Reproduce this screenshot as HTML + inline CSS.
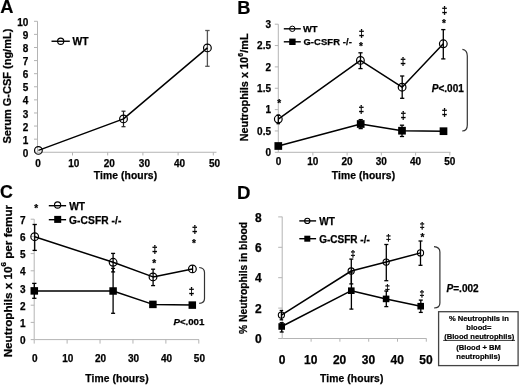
<!DOCTYPE html><html><head><meta charset="utf-8"><style>html,body{margin:0;padding:0;background:#fff;}svg{display:block;filter:grayscale(1);}text{font-family:"Liberation Sans",sans-serif;fill:#000;stroke:#000;stroke-width:0.25px;}</style></head><body>
<svg width="520" height="387" viewBox="0 0 520 387">
<g>
<rect width="520" height="387" fill="#fff"/>
<text x="0.3" y="13.3" font-size="18.3" text-anchor="start" font-weight="bold" style="stroke-width:0.15px">A</text>
<line x1="37.5" y1="21.3" x2="37.5" y2="152.25" stroke="#b4b4b4" stroke-width="1.0"/>
<line x1="34.0" y1="152.25" x2="37.5" y2="152.25" stroke="#b4b4b4" stroke-width="1.0"/>
<line x1="34.0" y1="139.16" x2="37.5" y2="139.16" stroke="#b4b4b4" stroke-width="1.0"/>
<line x1="34.0" y1="126.06" x2="37.5" y2="126.06" stroke="#b4b4b4" stroke-width="1.0"/>
<line x1="34.0" y1="112.97" x2="37.5" y2="112.97" stroke="#b4b4b4" stroke-width="1.0"/>
<line x1="34.0" y1="99.87" x2="37.5" y2="99.87" stroke="#b4b4b4" stroke-width="1.0"/>
<line x1="34.0" y1="86.77" x2="37.5" y2="86.77" stroke="#b4b4b4" stroke-width="1.0"/>
<line x1="34.0" y1="73.68" x2="37.5" y2="73.68" stroke="#b4b4b4" stroke-width="1.0"/>
<line x1="34.0" y1="60.58" x2="37.5" y2="60.58" stroke="#b4b4b4" stroke-width="1.0"/>
<line x1="34.0" y1="47.49" x2="37.5" y2="47.49" stroke="#b4b4b4" stroke-width="1.0"/>
<line x1="34.0" y1="34.39" x2="37.5" y2="34.39" stroke="#b4b4b4" stroke-width="1.0"/>
<line x1="34.0" y1="21.3" x2="37.5" y2="21.3" stroke="#b4b4b4" stroke-width="1.0"/>
<line x1="37.5" y1="152.25" x2="216.5" y2="152.25" stroke="#b4b4b4" stroke-width="1.0"/>
<line x1="72.5" y1="152.25" x2="72.5" y2="155.45" stroke="#b4b4b4" stroke-width="1.0"/>
<line x1="107.7" y1="152.25" x2="107.7" y2="155.45" stroke="#b4b4b4" stroke-width="1.0"/>
<line x1="142.9" y1="152.25" x2="142.9" y2="155.45" stroke="#b4b4b4" stroke-width="1.0"/>
<line x1="178.1" y1="152.25" x2="178.1" y2="155.45" stroke="#b4b4b4" stroke-width="1.0"/>
<line x1="213.3" y1="152.25" x2="213.3" y2="155.45" stroke="#b4b4b4" stroke-width="1.0"/>
<text x="28.4" y="156.85" font-size="10" text-anchor="end" font-weight="bold" >0</text>
<text x="28.4" y="143.75" font-size="10" text-anchor="end" font-weight="bold" >1</text>
<text x="28.4" y="130.66" font-size="10" text-anchor="end" font-weight="bold" >2</text>
<text x="28.4" y="117.56" font-size="10" text-anchor="end" font-weight="bold" >3</text>
<text x="28.4" y="104.47" font-size="10" text-anchor="end" font-weight="bold" >4</text>
<text x="28.4" y="91.37" font-size="10" text-anchor="end" font-weight="bold" >5</text>
<text x="28.4" y="78.28" font-size="10" text-anchor="end" font-weight="bold" >6</text>
<text x="28.4" y="65.18" font-size="10" text-anchor="end" font-weight="bold" >7</text>
<text x="28.4" y="52.09" font-size="10" text-anchor="end" font-weight="bold" >8</text>
<text x="28.4" y="38.99" font-size="10" text-anchor="end" font-weight="bold" >9</text>
<text x="28.4" y="25.9" font-size="10" text-anchor="end" font-weight="bold" >10</text>
<text x="38.1" y="166.6" font-size="10" text-anchor="middle" font-weight="bold" >0</text>
<text x="73.8" y="166.6" font-size="10" text-anchor="middle" font-weight="bold" >10</text>
<text x="109.2" y="166.6" font-size="10" text-anchor="middle" font-weight="bold" >20</text>
<text x="144.4" y="166.6" font-size="10" text-anchor="middle" font-weight="bold" >30</text>
<text x="179.6" y="166.6" font-size="10" text-anchor="middle" font-weight="bold" >40</text>
<text x="214.6" y="166.6" font-size="10" text-anchor="middle" font-weight="bold" >50</text>
<text x="125.5" y="178.8" font-size="10.3" text-anchor="middle" font-weight="bold" letter-spacing="0.1">Time (hours)</text>
<text transform="translate(10.9,86.1) rotate(-90) scale(1.02,1)" x="0" y="0" font-size="10.8" text-anchor="middle" font-weight="bold" >Serum G-CSF (ng/mL)</text>
<line x1="51.5" y1="41.25" x2="69.8" y2="41.25" stroke="#000" stroke-width="1.4"/>
<circle cx="60.7" cy="41.25" r="3.1" fill="none" stroke="#000" stroke-width="1.1"/>
<text x="72.6" y="44.8" font-size="10.3" text-anchor="start" font-weight="bold" >WT</text>
<line x1="123.5" y1="111.2" x2="123.5" y2="126.7" stroke="#222" stroke-width="1.2"/>
<line x1="121.5" y1="111.2" x2="125.5" y2="111.2" stroke="#222" stroke-width="1.2"/>
<line x1="121.5" y1="126.7" x2="125.5" y2="126.7" stroke="#222" stroke-width="1.2"/>
<line x1="207.4" y1="30.5" x2="207.4" y2="66.3" stroke="#555" stroke-width="1.3"/>
<line x1="205.2" y1="30.5" x2="209.6" y2="30.5" stroke="#555" stroke-width="1.3"/>
<line x1="205.2" y1="66.3" x2="209.6" y2="66.3" stroke="#555" stroke-width="1.3"/>
<polyline points="38.4,150.4 123.5,118.9 207.4,47.9" fill="none" stroke="#000" stroke-width="1.5" stroke-linejoin="round"/>
<circle cx="38.4" cy="150.4" r="3.85" fill="none" stroke="#000" stroke-width="1.2"/>
<circle cx="123.5" cy="118.9" r="3.85" fill="none" stroke="#000" stroke-width="1.2"/>
<circle cx="207.4" cy="47.9" r="3.85" fill="none" stroke="#000" stroke-width="1.2"/>
<text x="237.3" y="13.6" font-size="18.3" text-anchor="start" font-weight="bold" style="stroke-width:0.15px">B</text>
<line x1="278.3" y1="24.2" x2="278.3" y2="152.3" stroke="#b4b4b4" stroke-width="1.0"/>
<line x1="274.8" y1="152.3" x2="278.3" y2="152.3" stroke="#b4b4b4" stroke-width="1.0"/>
<line x1="274.8" y1="130.95" x2="278.3" y2="130.95" stroke="#b4b4b4" stroke-width="1.0"/>
<line x1="274.8" y1="109.6" x2="278.3" y2="109.6" stroke="#b4b4b4" stroke-width="1.0"/>
<line x1="274.8" y1="88.25" x2="278.3" y2="88.25" stroke="#b4b4b4" stroke-width="1.0"/>
<line x1="274.8" y1="66.9" x2="278.3" y2="66.9" stroke="#b4b4b4" stroke-width="1.0"/>
<line x1="274.8" y1="45.55" x2="278.3" y2="45.55" stroke="#b4b4b4" stroke-width="1.0"/>
<line x1="274.8" y1="24.2" x2="278.3" y2="24.2" stroke="#b4b4b4" stroke-width="1.0"/>
<line x1="278.3" y1="152.3" x2="450.5" y2="152.3" stroke="#b4b4b4" stroke-width="1.0"/>
<line x1="312.85" y1="152.3" x2="312.85" y2="155.5" stroke="#b4b4b4" stroke-width="1.0"/>
<line x1="347.1" y1="152.3" x2="347.1" y2="155.5" stroke="#b4b4b4" stroke-width="1.0"/>
<line x1="381.35" y1="152.3" x2="381.35" y2="155.5" stroke="#b4b4b4" stroke-width="1.0"/>
<line x1="415.6" y1="152.3" x2="415.6" y2="155.5" stroke="#b4b4b4" stroke-width="1.0"/>
<line x1="449.85" y1="152.3" x2="449.85" y2="155.5" stroke="#b4b4b4" stroke-width="1.0"/>
<text x="271.0" y="156.15" font-size="10" text-anchor="end" font-weight="bold" >0</text>
<text x="271.0" y="134.8" font-size="10" text-anchor="end" font-weight="bold" >0.5</text>
<text x="271.0" y="113.45" font-size="10" text-anchor="end" font-weight="bold" >1</text>
<text x="271.0" y="92.1" font-size="10" text-anchor="end" font-weight="bold" >1.5</text>
<text x="271.0" y="70.75" font-size="10" text-anchor="end" font-weight="bold" >2</text>
<text x="271.0" y="49.4" font-size="10" text-anchor="end" font-weight="bold" >2.5</text>
<text x="271.0" y="28.05" font-size="10" text-anchor="end" font-weight="bold" >3</text>
<text x="278.6" y="165.3" font-size="10" text-anchor="middle" font-weight="bold" >0</text>
<text x="312.85" y="165.3" font-size="10" text-anchor="middle" font-weight="bold" >10</text>
<text x="347.1" y="165.3" font-size="10" text-anchor="middle" font-weight="bold" >20</text>
<text x="381.35" y="165.3" font-size="10" text-anchor="middle" font-weight="bold" >30</text>
<text x="415.6" y="165.3" font-size="10" text-anchor="middle" font-weight="bold" >40</text>
<text x="449.85" y="165.3" font-size="10" text-anchor="middle" font-weight="bold" >50</text>
<text x="363.5" y="178.7" font-size="10.3" text-anchor="middle" font-weight="bold" letter-spacing="0.1">Time (hours)</text>
<text transform="translate(247.8,87.4) rotate(-90) scale(1.065,1)" x="0" y="0" font-size="10.2" text-anchor="middle" font-weight="bold" >Neutrophils x 10<tspan font-size="6.5" dx="0.2" dy="-4.6">6</tspan><tspan dx="0.2" dy="4.6">/mL</tspan></text>
<line x1="283.8" y1="28.8" x2="300.8" y2="28.8" stroke="#000" stroke-width="1.4"/>
<circle cx="292.3" cy="28.8" r="2.7" fill="none" stroke="#000" stroke-width="1.0"/>
<text x="303.0" y="32.1" font-size="9.4" text-anchor="start" font-weight="bold" >WT</text>
<line x1="283.8" y1="41.8" x2="300.8" y2="41.8" stroke="#000" stroke-width="1.4"/>
<rect x="289.2" y="38.6" width="6.4" height="6.4" fill="#000"/>
<text x="303.4" y="45.1" font-size="9.4" text-anchor="start" font-weight="bold" letter-spacing="0.12">G-CSFR -/-</text>
<line x1="278.3" y1="115" x2="278.3" y2="123.7" stroke="#000" stroke-width="1.3"/>
<line x1="276.55" y1="115" x2="280.05" y2="115" stroke="#000" stroke-width="1.3"/>
<line x1="276.55" y1="123.7" x2="280.05" y2="123.7" stroke="#000" stroke-width="1.3"/>
<line x1="360.5" y1="52.8" x2="360.5" y2="68.6" stroke="#000" stroke-width="1.3"/>
<line x1="358.4" y1="52.8" x2="362.6" y2="52.8" stroke="#000" stroke-width="1.3"/>
<line x1="358.4" y1="68.6" x2="362.6" y2="68.6" stroke="#000" stroke-width="1.3"/>
<line x1="402.2" y1="76" x2="402.2" y2="98.3" stroke="#000" stroke-width="1.3"/>
<line x1="400.1" y1="76" x2="404.3" y2="76" stroke="#000" stroke-width="1.3"/>
<line x1="400.1" y1="98.3" x2="404.3" y2="98.3" stroke="#000" stroke-width="1.3"/>
<line x1="443.3" y1="29.6" x2="443.3" y2="58.9" stroke="#000" stroke-width="1.3"/>
<line x1="441.2" y1="29.6" x2="445.4" y2="29.6" stroke="#000" stroke-width="1.3"/>
<line x1="441.2" y1="58.9" x2="445.4" y2="58.9" stroke="#000" stroke-width="1.3"/>
<line x1="402" y1="125.2" x2="402" y2="136.5" stroke="#000" stroke-width="1.3"/>
<line x1="399.9" y1="125.2" x2="404.1" y2="125.2" stroke="#000" stroke-width="1.3"/>
<line x1="399.9" y1="136.5" x2="404.1" y2="136.5" stroke="#000" stroke-width="1.3"/>
<line x1="360.7" y1="119.6" x2="360.7" y2="128.6" stroke="#000" stroke-width="1.3"/>
<line x1="358.6" y1="119.6" x2="362.8" y2="119.6" stroke="#000" stroke-width="1.3"/>
<line x1="358.6" y1="128.6" x2="362.8" y2="128.6" stroke="#000" stroke-width="1.3"/>
<polyline points="278.3,119.1 360.4,60.4 402.1,87.2 443.3,43.8" fill="none" stroke="#000" stroke-width="1.5" stroke-linejoin="round"/>
<circle cx="278.3" cy="119.1" r="3.85" fill="none" stroke="#000" stroke-width="1.2"/>
<circle cx="360.4" cy="60.4" r="3.85" fill="none" stroke="#000" stroke-width="1.2"/>
<circle cx="402.1" cy="87.2" r="3.85" fill="none" stroke="#000" stroke-width="1.2"/>
<circle cx="443.3" cy="43.8" r="3.85" fill="none" stroke="#000" stroke-width="1.2"/>
<polyline points="278.3,146.0 360.7,124 402,130.7 443.5,131.2" fill="none" stroke="#000" stroke-width="1.5" stroke-linejoin="round"/>
<rect x="274.45" y="142.15" width="7.7" height="7.7" fill="#000"/>
<rect x="356.85" y="120.15" width="7.7" height="7.7" fill="#000"/>
<rect x="398.15" y="126.85" width="7.7" height="7.7" fill="#000"/>
<rect x="439.65" y="127.35" width="7.7" height="7.7" fill="#000"/>
<text x="279.3" y="107.35" font-size="10" text-anchor="middle" font-weight="bold" >*</text>
<text x="360.95" y="49.65" font-size="10" text-anchor="middle" font-weight="bold" >*</text>
<text x="361.45" y="36.55" font-size="10" text-anchor="middle" font-weight="bold" >‡</text>
<text x="403.15" y="64.75" font-size="10" text-anchor="middle" font-weight="bold" >‡</text>
<text x="403.25" y="118.55" font-size="10" text-anchor="middle" font-weight="bold" >‡</text>
<text x="443.95" y="27.0" font-size="10" text-anchor="middle" font-weight="bold" >*</text>
<text x="444.65" y="13.75" font-size="10" text-anchor="middle" font-weight="bold" >‡</text>
<text x="361.25" y="113.0" font-size="10" text-anchor="middle" font-weight="bold" >‡</text>
<text x="444.45" y="115.7" font-size="10" text-anchor="middle" font-weight="bold" >‡</text>
<path d="M462.4,49.3 Q467.3,50 467.3,56 L467.3,125 Q467.3,131 462.2,131" fill="none" stroke="#333" stroke-width="1.2"/>
<text x="463.8" y="92.0" font-size="10" text-anchor="end" font-weight="bold" ><tspan font-style="italic">P</tspan>&lt;.001</text>
<text x="0.1" y="197.9" font-size="17.8" text-anchor="start" font-weight="bold" style="stroke-width:0.15px">C</text>
<line x1="34.2" y1="219.1" x2="34.2" y2="339.6" stroke="#b4b4b4" stroke-width="1.0"/>
<line x1="30.7" y1="339.6" x2="34.2" y2="339.6" stroke="#b4b4b4" stroke-width="1.0"/>
<line x1="30.7" y1="322.4" x2="34.2" y2="322.4" stroke="#b4b4b4" stroke-width="1.0"/>
<line x1="30.7" y1="305.2" x2="34.2" y2="305.2" stroke="#b4b4b4" stroke-width="1.0"/>
<line x1="30.7" y1="288.0" x2="34.2" y2="288.0" stroke="#b4b4b4" stroke-width="1.0"/>
<line x1="30.7" y1="270.8" x2="34.2" y2="270.8" stroke="#b4b4b4" stroke-width="1.0"/>
<line x1="30.7" y1="253.6" x2="34.2" y2="253.6" stroke="#b4b4b4" stroke-width="1.0"/>
<line x1="30.7" y1="236.4" x2="34.2" y2="236.4" stroke="#b4b4b4" stroke-width="1.0"/>
<line x1="30.7" y1="219.2" x2="34.2" y2="219.2" stroke="#b4b4b4" stroke-width="1.0"/>
<line x1="34.2" y1="339.6" x2="199.0" y2="339.6" stroke="#b4b4b4" stroke-width="1.0"/>
<line x1="34.2" y1="339.6" x2="34.2" y2="343.6" stroke="#b4b4b4" stroke-width="1.0"/>
<line x1="67.12" y1="339.6" x2="67.12" y2="343.6" stroke="#b4b4b4" stroke-width="1.0"/>
<line x1="100.04" y1="339.6" x2="100.04" y2="343.6" stroke="#b4b4b4" stroke-width="1.0"/>
<line x1="132.96" y1="339.6" x2="132.96" y2="343.6" stroke="#b4b4b4" stroke-width="1.0"/>
<line x1="165.88" y1="339.6" x2="165.88" y2="343.6" stroke="#b4b4b4" stroke-width="1.0"/>
<line x1="198.8" y1="339.6" x2="198.8" y2="343.6" stroke="#b4b4b4" stroke-width="1.0"/>
<text x="25.5" y="344.2" font-size="10" text-anchor="end" font-weight="bold" >0</text>
<text x="25.5" y="327.0" font-size="10" text-anchor="end" font-weight="bold" >1</text>
<text x="25.5" y="309.8" font-size="10" text-anchor="end" font-weight="bold" >2</text>
<text x="25.5" y="292.6" font-size="10" text-anchor="end" font-weight="bold" >3</text>
<text x="25.5" y="275.4" font-size="10" text-anchor="end" font-weight="bold" >4</text>
<text x="25.5" y="258.2" font-size="10" text-anchor="end" font-weight="bold" >5</text>
<text x="25.5" y="241.0" font-size="10" text-anchor="end" font-weight="bold" >6</text>
<text x="25.5" y="223.8" font-size="10" text-anchor="end" font-weight="bold" >7</text>
<text x="34.8" y="362.4" font-size="10" text-anchor="middle" font-weight="bold" >0</text>
<text x="67.72" y="362.4" font-size="10" text-anchor="middle" font-weight="bold" >10</text>
<text x="100.64" y="362.4" font-size="10" text-anchor="middle" font-weight="bold" >20</text>
<text x="133.56" y="362.4" font-size="10" text-anchor="middle" font-weight="bold" >30</text>
<text x="166.48" y="362.4" font-size="10" text-anchor="middle" font-weight="bold" >40</text>
<text x="199.4" y="362.4" font-size="10" text-anchor="middle" font-weight="bold" >50</text>
<text x="117.0" y="381.9" font-size="10.3" text-anchor="middle" font-weight="bold" letter-spacing="0.1">Time (hours)</text>
<text transform="translate(11.5,281.1) rotate(-90) scale(1.063,1)" x="0" y="0" font-size="11" text-anchor="middle" font-weight="bold" >Neutrophils x 10<tspan font-size="7.5" dx="0" dy="-5.4">6</tspan><tspan dy="5.4"> per femur</tspan></text>
<line x1="48.8" y1="205.7" x2="66.1" y2="205.7" stroke="#000" stroke-width="1.4"/>
<circle cx="57.6" cy="205.0" r="3.1" fill="none" stroke="#000" stroke-width="1.1"/>
<text x="69.2" y="209.8" font-size="10.2" text-anchor="start" font-weight="bold" >WT</text>
<line x1="48.8" y1="219.7" x2="66.1" y2="219.7" stroke="#000" stroke-width="1.4"/>
<rect x="54.2" y="215.9" width="7.0" height="7.0" fill="#000"/>
<text x="69.1" y="223.8" font-size="10.2" text-anchor="start" font-weight="bold" letter-spacing="0.08">G-CSFR -/-</text>
<line x1="34.7" y1="224.5" x2="34.7" y2="250.4" stroke="#000" stroke-width="1.3"/>
<line x1="32.55" y1="224.5" x2="36.85" y2="224.5" stroke="#000" stroke-width="1.3"/>
<line x1="32.55" y1="250.4" x2="36.85" y2="250.4" stroke="#000" stroke-width="1.3"/>
<line x1="113.1" y1="253.4" x2="113.1" y2="271.9" stroke="#000" stroke-width="1.3"/>
<line x1="111.1" y1="253.4" x2="115.1" y2="253.4" stroke="#000" stroke-width="1.3"/>
<line x1="111.1" y1="271.9" x2="115.1" y2="271.9" stroke="#000" stroke-width="1.3"/>
<line x1="153.1" y1="269.2" x2="153.1" y2="285.6" stroke="#000" stroke-width="1.3"/>
<line x1="151.1" y1="269.2" x2="155.1" y2="269.2" stroke="#000" stroke-width="1.3"/>
<line x1="151.1" y1="285.6" x2="155.1" y2="285.6" stroke="#000" stroke-width="1.3"/>
<line x1="192.6" y1="265.2" x2="192.6" y2="273.0" stroke="#000" stroke-width="1.2"/>
<line x1="34.3" y1="283.4" x2="34.3" y2="298.3" stroke="#000" stroke-width="1.3"/>
<line x1="32.15" y1="283.4" x2="36.45" y2="283.4" stroke="#000" stroke-width="1.3"/>
<line x1="32.15" y1="298.3" x2="36.45" y2="298.3" stroke="#000" stroke-width="1.3"/>
<line x1="113.1" y1="268.4" x2="113.1" y2="313.3" stroke="#000" stroke-width="1.3"/>
<line x1="111.1" y1="268.4" x2="115.1" y2="268.4" stroke="#000" stroke-width="1.3"/>
<line x1="111.1" y1="313.3" x2="115.1" y2="313.3" stroke="#000" stroke-width="1.3"/>
<polyline points="34.7,236.7 113.1,262.3 153.0,276.9 192.4,268.9" fill="none" stroke="#000" stroke-width="1.5" stroke-linejoin="round"/>
<circle cx="34.7" cy="236.7" r="3.85" fill="none" stroke="#000" stroke-width="1.2"/>
<circle cx="113.1" cy="262.3" r="3.85" fill="none" stroke="#000" stroke-width="1.2"/>
<circle cx="153.0" cy="276.9" r="3.85" fill="none" stroke="#000" stroke-width="1.2"/>
<circle cx="192.4" cy="268.9" r="3.85" fill="none" stroke="#000" stroke-width="1.2"/>
<polyline points="34.3,290.9 113.1,291.0 152.9,304.4 192.3,305.1" fill="none" stroke="#000" stroke-width="1.5" stroke-linejoin="round"/>
<rect x="30.55" y="287.15" width="7.5" height="7.5" fill="#000"/>
<rect x="109.35" y="287.25" width="7.5" height="7.5" fill="#000"/>
<rect x="149.15" y="300.65" width="7.5" height="7.5" fill="#000"/>
<rect x="188.55" y="301.35" width="7.5" height="7.5" fill="#000"/>
<text x="36.1" y="211.55" font-size="10" text-anchor="middle" font-weight="bold" >*</text>
<text x="154.2" y="266.85" font-size="10" text-anchor="middle" font-weight="bold" >*</text>
<text x="154.9" y="253.4" font-size="10" text-anchor="middle" font-weight="bold" >‡</text>
<text x="193.9" y="246.5" font-size="10" text-anchor="middle" font-weight="bold" >*</text>
<text x="194.8" y="233.25" font-size="10" text-anchor="middle" font-weight="bold" >‡</text>
<text x="191.65" y="294.85" font-size="10" text-anchor="middle" font-weight="bold" >‡</text>
<path d="M199.2,267.5 Q204.5,268 204.5,272.5 L204.5,298.5 Q204.5,303 199.2,303.4" fill="none" stroke="#333" stroke-width="1.2"/>
<text x="204.4" y="324.6" font-size="9.7" text-anchor="end" font-weight="bold" ><tspan font-style="italic">P</tspan>&lt;.001</text>
<text x="236.9" y="198.7" font-size="18.6" text-anchor="start" font-weight="bold" style="stroke-width:0.15px">D</text>
<line x1="282.2" y1="216.7" x2="282.2" y2="338.5" stroke="#b4b4b4" stroke-width="1.0"/>
<line x1="278.2" y1="338.5" x2="282.2" y2="338.5" stroke="#b4b4b4" stroke-width="1.0"/>
<line x1="278.2" y1="308.1" x2="282.2" y2="308.1" stroke="#b4b4b4" stroke-width="1.0"/>
<line x1="278.2" y1="277.7" x2="282.2" y2="277.7" stroke="#b4b4b4" stroke-width="1.0"/>
<line x1="278.2" y1="247.3" x2="282.2" y2="247.3" stroke="#b4b4b4" stroke-width="1.0"/>
<line x1="278.2" y1="216.9" x2="282.2" y2="216.9" stroke="#b4b4b4" stroke-width="1.0"/>
<line x1="282.2" y1="338.5" x2="426.5" y2="338.5" stroke="#b4b4b4" stroke-width="1.0"/>
<line x1="311.1" y1="338.5" x2="311.1" y2="341.7" stroke="#b4b4b4" stroke-width="1.0"/>
<line x1="339.9" y1="338.5" x2="339.9" y2="341.7" stroke="#b4b4b4" stroke-width="1.0"/>
<line x1="368.7" y1="338.5" x2="368.7" y2="341.7" stroke="#b4b4b4" stroke-width="1.0"/>
<line x1="397.5" y1="338.5" x2="397.5" y2="341.7" stroke="#b4b4b4" stroke-width="1.0"/>
<line x1="426.3" y1="338.5" x2="426.3" y2="341.7" stroke="#b4b4b4" stroke-width="1.0"/>
<text x="261.7" y="343.1" font-size="12" text-anchor="end" font-weight="bold" >0</text>
<text x="261.7" y="312.7" font-size="12" text-anchor="end" font-weight="bold" >2</text>
<text x="261.7" y="282.3" font-size="12" text-anchor="end" font-weight="bold" >4</text>
<text x="261.7" y="251.9" font-size="12" text-anchor="end" font-weight="bold" >6</text>
<text x="261.7" y="221.5" font-size="12" text-anchor="end" font-weight="bold" >8</text>
<text x="282.0" y="364.0" font-size="12" text-anchor="middle" font-weight="bold" >0</text>
<text x="310.8" y="364.0" font-size="12" text-anchor="middle" font-weight="bold" >10</text>
<text x="339.6" y="364.0" font-size="12" text-anchor="middle" font-weight="bold" >20</text>
<text x="368.40000000000003" y="364.0" font-size="12" text-anchor="middle" font-weight="bold" >30</text>
<text x="397.2" y="364.0" font-size="12" text-anchor="middle" font-weight="bold" >40</text>
<text x="426.0" y="364.0" font-size="12" text-anchor="middle" font-weight="bold" >50</text>
<text x="351.8" y="381.9" font-size="10.3" text-anchor="middle" font-weight="bold" letter-spacing="0.1">Time (hours)</text>
<text transform="translate(247.2,277.9) rotate(-90) scale(1.02,1)" x="0" y="0" font-size="10.1" text-anchor="middle" font-weight="bold" >% Neutrophils in blood</text>
<line x1="299.3" y1="220.9" x2="316.1" y2="220.9" stroke="#000" stroke-width="1.4"/>
<circle cx="307.3" cy="220.9" r="2.6" fill="none" stroke="#000" stroke-width="1.1"/>
<text x="319.2" y="225.0" font-size="10" text-anchor="start" font-weight="bold" >WT</text>
<line x1="299.3" y1="238.7" x2="316.1" y2="238.7" stroke="#000" stroke-width="1.4"/>
<rect x="304.3" y="235.7" width="6" height="6" fill="#000"/>
<text x="319.2" y="242.8" font-size="10" text-anchor="start" font-weight="bold" >G-CSFR -/-</text>
<line x1="281.4" y1="310.5" x2="281.4" y2="319.8" stroke="#000" stroke-width="1.3"/>
<line x1="279.65" y1="310.5" x2="283.15" y2="310.5" stroke="#000" stroke-width="1.3"/>
<line x1="279.65" y1="319.8" x2="283.15" y2="319.8" stroke="#000" stroke-width="1.3"/>
<line x1="351.3" y1="259.1" x2="351.3" y2="283.9" stroke="#000" stroke-width="1.3"/>
<line x1="349.3" y1="259.1" x2="353.3" y2="259.1" stroke="#000" stroke-width="1.3"/>
<line x1="349.3" y1="283.9" x2="353.3" y2="283.9" stroke="#000" stroke-width="1.3"/>
<line x1="386.3" y1="244.5" x2="386.3" y2="280.7" stroke="#000" stroke-width="1.3"/>
<line x1="384.3" y1="244.5" x2="388.3" y2="244.5" stroke="#000" stroke-width="1.3"/>
<line x1="384.3" y1="280.7" x2="388.3" y2="280.7" stroke="#000" stroke-width="1.3"/>
<line x1="420.5" y1="241" x2="420.5" y2="265.3" stroke="#000" stroke-width="1.3"/>
<line x1="418.5" y1="241" x2="422.5" y2="241" stroke="#000" stroke-width="1.3"/>
<line x1="418.5" y1="265.3" x2="422.5" y2="265.3" stroke="#000" stroke-width="1.3"/>
<line x1="281.7" y1="322.7" x2="281.7" y2="332" stroke="#000" stroke-width="1.3"/>
<line x1="279.7" y1="322.7" x2="283.7" y2="322.7" stroke="#000" stroke-width="1.3"/>
<line x1="279.7" y1="332" x2="283.7" y2="332" stroke="#000" stroke-width="1.3"/>
<line x1="351.4" y1="272" x2="351.4" y2="309.1" stroke="#000" stroke-width="1.3"/>
<line x1="349.4" y1="272" x2="353.4" y2="272" stroke="#000" stroke-width="1.3"/>
<line x1="349.4" y1="309.1" x2="353.4" y2="309.1" stroke="#000" stroke-width="1.3"/>
<line x1="386.3" y1="291" x2="386.3" y2="306.6" stroke="#000" stroke-width="1.3"/>
<line x1="384.3" y1="291" x2="388.3" y2="291" stroke="#000" stroke-width="1.3"/>
<line x1="384.3" y1="306.6" x2="388.3" y2="306.6" stroke="#000" stroke-width="1.3"/>
<line x1="420.8" y1="300.1" x2="420.8" y2="312.4" stroke="#000" stroke-width="1.3"/>
<line x1="418.8" y1="300.1" x2="422.8" y2="300.1" stroke="#000" stroke-width="1.3"/>
<line x1="418.8" y1="312.4" x2="422.8" y2="312.4" stroke="#000" stroke-width="1.3"/>
<polyline points="281.4,315.1 351.2,271.0 386.2,262.1 420.5,252.9" fill="none" stroke="#000" stroke-width="1.5" stroke-linejoin="round"/>
<circle cx="281.4" cy="315.1" r="3.1" fill="none" stroke="#000" stroke-width="1.1"/>
<circle cx="351.2" cy="271.0" r="3.1" fill="none" stroke="#000" stroke-width="1.1"/>
<circle cx="386.2" cy="262.1" r="3.1" fill="none" stroke="#000" stroke-width="1.1"/>
<circle cx="420.5" cy="252.9" r="3.1" fill="none" stroke="#000" stroke-width="1.1"/>
<polyline points="281.7,326.5 351.3,290.7 386.1,298.9 420.7,306.2" fill="none" stroke="#000" stroke-width="1.5" stroke-linejoin="round"/>
<rect x="278.4" y="323.2" width="6.6" height="6.6" fill="#000"/>
<rect x="348.0" y="287.4" width="6.6" height="6.6" fill="#000"/>
<rect x="382.8" y="295.6" width="6.6" height="6.6" fill="#000"/>
<rect x="417.4" y="302.9" width="6.6" height="6.6" fill="#000"/>
<text x="353.05" y="256.68" font-size="8.8" text-anchor="middle" font-weight="bold" >‡</text>
<text x="388.55" y="240.68" font-size="8.8" text-anchor="middle" font-weight="bold" >‡</text>
<text x="387.45" y="290.88" font-size="8.8" text-anchor="middle" font-weight="bold" >‡</text>
<text x="422.35" y="241.05" font-size="10" text-anchor="middle" font-weight="bold" >*</text>
<text x="422.2" y="228.93" font-size="8.8" text-anchor="middle" font-weight="bold" >‡</text>
<text x="422.05" y="297.08" font-size="8.8" text-anchor="middle" font-weight="bold" >‡</text>
<path d="M434,246.6 Q439.9,247 439.9,252 L439.9,303 Q439.9,308 434.1,308" fill="none" stroke="#333" stroke-width="1.2"/>
<text x="478.6" y="291.5" font-size="10" text-anchor="end" font-weight="bold" ><tspan font-style="italic">P</tspan>=.002</text>
<rect x="438.6" y="311.7" width="79.5" height="53.9" fill="#fff" stroke="#444" stroke-width="1.3"/>
<text x="478.9" y="320.7" font-size="7.6" text-anchor="middle" font-weight="bold" style="stroke-width:0.2px">% Neutrophils in</text>
<text x="478.9" y="330.1" font-size="7.6" text-anchor="middle" font-weight="bold" style="stroke-width:0.2px">blood=</text>
<text x="479.2" y="339.4" font-size="7.6" text-anchor="middle" font-weight="bold" style="stroke-width:0.2px">(Blood neutrophils)</text>
<line x1="443.2" y1="340.4" x2="515" y2="340.4" stroke="#000" stroke-width="0.8"/>
<text x="478.6" y="349.6" font-size="7.6" text-anchor="middle" font-weight="bold" style="stroke-width:0.2px">(Blood + BM</text>
<text x="478.3" y="359.0" font-size="7.6" text-anchor="middle" font-weight="bold" style="stroke-width:0.2px">neutrophils)</text>
</g>
</svg></body></html>
